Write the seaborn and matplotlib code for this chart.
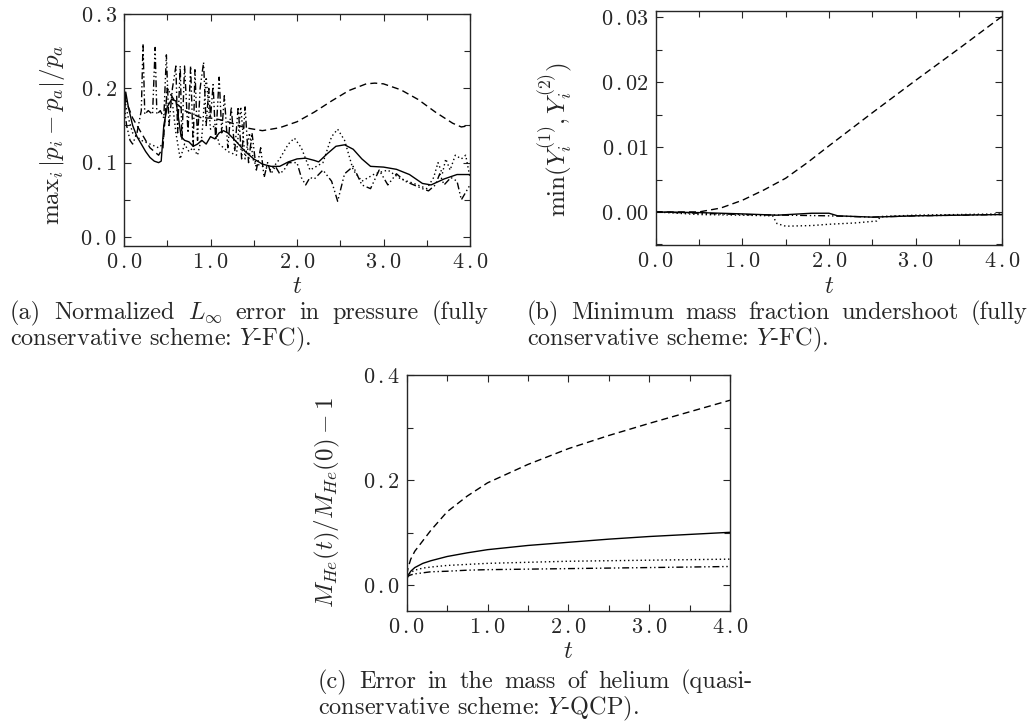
import numpy as np
import pandas as pd
import seaborn as sns
import matplotlib
matplotlib.use('Agg')
import matplotlib.pyplot as plt
from matplotlib.ticker import MultipleLocator, FuncFormatter

# ---- panel (a): normalized L_inf pressure error, Y-FC ----
a_solid_t = [0.0, 0.02, 0.05, 0.1, 0.15, 0.2, 0.25, 0.3, 0.35, 0.4, 0.43, 0.46, 0.5, 0.55, 0.6, 0.63, 0.66,
             0.7, 0.75, 0.8, 0.85, 0.9, 0.95, 1.0, 1.05, 1.1, 1.15, 1.2, 1.3, 1.4, 1.5, 1.6, 1.7, 1.8, 1.9,
             2.0, 2.1, 2.2, 2.25, 2.35, 2.45, 2.55, 2.65, 2.75, 2.85, 3.0, 3.15, 3.3, 3.45, 3.55, 3.7, 3.85, 4.0]
a_solid_y = [0.150, 0.195, 0.175, 0.150, 0.135, 0.125, 0.115, 0.107, 0.102, 0.100, 0.102, 0.150, 0.175, 0.185,
             0.183, 0.160, 0.135, 0.130, 0.128, 0.122, 0.125, 0.130, 0.125, 0.135, 0.132, 0.140, 0.143, 0.140,
             0.128, 0.115, 0.105, 0.098, 0.095, 0.095, 0.101, 0.105, 0.106, 0.103, 0.101, 0.112, 0.122, 0.124,
             0.118, 0.105, 0.095, 0.094, 0.091, 0.084, 0.072, 0.070, 0.078, 0.084, 0.084]

a_dash_t = [0.0, 0.05, 0.1, 0.2, 0.3, 0.4, 0.45, 0.5, 0.55, 0.6, 0.7, 0.8, 0.9, 1.0, 1.1, 1.2, 1.4, 1.6, 1.8,
            2.0, 2.2, 2.4, 2.6, 2.8, 2.9, 3.0, 3.2, 3.4, 3.6, 3.8, 3.9, 4.0]
a_dash_y = [0.19, 0.175, 0.16, 0.14, 0.12, 0.11, 0.12, 0.20, 0.19, 0.18, 0.17, 0.165, 0.16, 0.16, 0.158, 0.155,
            0.147, 0.143, 0.147, 0.155, 0.168, 0.183, 0.197, 0.206, 0.207, 0.206, 0.198, 0.185, 0.168, 0.153,
            0.148, 0.150]

a_dot_t = [0.0, 0.05, 0.1, 0.2, 0.3, 0.4, 0.45, 0.5, 0.55, 0.6, 0.65, 0.7, 0.75, 0.8, 0.85, 0.9, 0.95, 1.0,
           1.05, 1.1, 1.2, 1.3, 1.35, 1.4, 1.45, 1.5, 1.6, 1.7, 1.8, 1.9, 1.97, 2.05, 2.15, 2.3, 2.4, 2.47,
           2.55, 2.65, 2.75, 2.9, 3.05, 3.2, 3.35, 3.5, 3.58, 3.63, 3.68, 3.72, 3.77, 3.83, 3.9, 3.95, 4.0]
a_dot_y = [0.19, 0.16, 0.14, 0.13, 0.125, 0.12, 0.125, 0.20, 0.19, 0.14, 0.105, 0.125, 0.115, 0.12, 0.11,
           0.135, 0.215, 0.145, 0.15, 0.125, 0.115, 0.11, 0.175, 0.105, 0.14, 0.10, 0.095, 0.09, 0.105, 0.125,
           0.133, 0.12, 0.09, 0.10, 0.135, 0.145, 0.13, 0.09, 0.075, 0.085, 0.09, 0.078, 0.072, 0.065, 0.08,
           0.10, 0.085, 0.105, 0.09, 0.11, 0.105, 0.11, 0.08]

a_dd_t = [0.0, 0.03, 0.07, 0.1, 0.15, 0.2, 0.22, 0.24, 0.28, 0.33, 0.36, 0.38, 0.42, 0.46, 0.49, 0.52, 0.56,
          0.6, 0.62, 0.65, 0.67, 0.7, 0.74, 0.77, 0.8, 0.82, 0.85, 0.88, 0.92, 0.95, 0.98, 1.0, 1.03, 1.06,
          1.1, 1.13, 1.16, 1.2, 1.24, 1.28, 1.32, 1.36, 1.4, 1.44, 1.48, 1.53, 1.58, 1.62, 1.66, 1.7, 1.75,
          1.8, 1.85, 1.9, 2.0, 2.05, 2.1, 2.15, 2.2, 2.3, 2.4, 2.47, 2.55, 2.65, 2.75, 2.85, 2.95, 3.05, 3.15,
          3.25, 3.35, 3.45, 3.52, 3.6, 3.65, 3.7, 3.78, 3.85, 3.9, 3.95, 4.0]
a_dd_y = [0.18, 0.15, 0.13, 0.125, 0.14, 0.17, 0.26, 0.165, 0.17, 0.165, 0.255, 0.165, 0.17, 0.16, 0.245,
          0.15, 0.2, 0.23, 0.14, 0.23, 0.13, 0.23, 0.14, 0.23, 0.12, 0.225, 0.13, 0.2, 0.235, 0.15, 0.2, 0.16,
          0.205, 0.13, 0.215, 0.14, 0.19, 0.12, 0.175, 0.115, 0.175, 0.105, 0.175, 0.1, 0.14, 0.09, 0.12,
          0.08, 0.1, 0.085, 0.095, 0.085, 0.09, 0.1, 0.1, 0.08, 0.07, 0.08, 0.078, 0.09, 0.075, 0.048, 0.085,
          0.095, 0.07, 0.065, 0.09, 0.07, 0.085, 0.075, 0.07, 0.065, 0.062, 0.07, 0.085, 0.07, 0.08, 0.075,
          0.05, 0.06, 0.07]

# ---- panel (b): minimum mass fraction undershoot, Y-FC ----
b_solid_t = [0.0, 0.5, 1.0, 1.4, 1.8, 2.0, 2.1, 2.5, 3.0, 3.5, 4.0]
b_solid_y = [0.0, -0.0001, -0.0003, -0.0005, -0.0002, -0.0002, -0.0006, -0.0008, -0.0006, -0.0005, -0.0004]
b_dash_t = [0.0, 0.5, 0.75, 1.0, 1.25, 1.5, 1.75, 2.0, 2.5, 3.0, 3.5, 4.0]
b_dash_y = [0.0, 0.0, 0.0006, 0.0018, 0.0034, 0.0052, 0.0076, 0.0102, 0.0153, 0.0203, 0.0252, 0.0302]
b_dot_t = [0.0, 0.5, 1.0, 1.35, 1.4, 1.5, 1.8, 2.0, 2.3, 2.55, 2.6, 3.0, 3.5, 4.0]
b_dot_y = [0.0, -0.0004, -0.0005, -0.0006, -0.0018, -0.0022, -0.0021, -0.0019, -0.0017, -0.0014, -0.0007,
           -0.0005, -0.0004, -0.0003]
b_dd_t = [0.0, 0.5, 1.0, 1.5, 2.0, 2.5, 3.0, 3.5, 4.0]
b_dd_y = [0.0, -0.0002, -0.0004, -0.0005, -0.0006, -0.0008, -0.0006, -0.0005, -0.0004]

# ---- panel (c): error in the mass of helium, Y-QCP ----
c_t = [0.0, 0.02, 0.05, 0.1, 0.2, 0.3, 0.5, 0.75, 1.0, 1.5, 2.0, 2.5, 3.0, 3.5, 4.0]
c_dash = [0.02, 0.035, 0.05, 0.065, 0.085, 0.105, 0.14, 0.17, 0.195, 0.23, 0.26, 0.285, 0.308, 0.33, 0.352]
c_solid = [0.01, 0.02, 0.027, 0.034, 0.042, 0.047, 0.055, 0.062, 0.068, 0.076, 0.082, 0.088, 0.093, 0.097, 0.101]
c_dot = [0.015, 0.02, 0.025, 0.029, 0.033, 0.035, 0.038, 0.04, 0.042, 0.044, 0.046, 0.047, 0.048, 0.049, 0.05]
c_dd = [0.015, 0.018, 0.02, 0.022, 0.024, 0.026, 0.027, 0.029, 0.03, 0.031, 0.032, 0.033, 0.034, 0.035, 0.036]

DASH = (5, 3)
DOT = (1, 2)
DASHDOTDOT = (5, 2, 1, 2, 1, 2)

sns.set_style('ticks')
plt.rcParams['font.family'] = 'serif'
plt.rcParams['font.serif'] = ['cmr10']
plt.rcParams['mathtext.fontset'] = 'cm'
plt.rcParams['axes.formatter.use_mathtext'] = True
plt.rcParams['axes.unicode_minus'] = False

fig = plt.figure(figsize=(10.31, 7.26), dpi=100)
W = fig.bbox.width
H = fig.bbox.height


def draw(ax, t, y, dashes=None):
    sns.lineplot(x=t, y=y, ax=ax, color='black', lw=1.0)
    if dashes is not None:
        ax.lines[-1].set_dashes(dashes)


def spaced(ndig):
    # gnuplot-like "0 .3" tick labels
    def f(v, pos):
        s = '%.*f' % (ndig, v)
        i, d = s.split('.')
        return r'$%s\,.%s$' % (i.replace('-', ''), d)
    return FuncFormatter(f)


def style_axes(ax, ylim, ymaj, ymin, ndig, ylabel, lx, ly):
    ax.set_xlim(0, 4)
    ax.set_ylim(*ylim)
    ax.xaxis.set_major_locator(MultipleLocator(1.0))
    ax.xaxis.set_minor_locator(MultipleLocator(0.5))
    ax.yaxis.set_major_locator(MultipleLocator(ymaj))
    ax.yaxis.set_minor_locator(MultipleLocator(ymin))
    ax.xaxis.set_major_formatter(spaced(1))
    ax.yaxis.set_major_formatter(spaced(ndig))
    ax.tick_params(which='both', direction='in', top=True, right=True, labelsize=16, width=0.8)
    ax.tick_params(which='major', length=5, pad=5)
    ax.tick_params(which='minor', length=4)
    for s in ax.spines.values():
        s.set_linewidth(1.0)
    ax.set_xlabel(r'$t$', fontsize=18)
    ax.xaxis.set_label_coords(0.5, -0.13)
    ax.set_ylabel(ylabel, fontsize=18)
    ax.yaxis.set_label_coords(lx, ly)


def justify(words, x0, x1, y, size=17.5):
    texts = [fig.text(0, y, w, size=size, va='baseline', ha='left') for w in words]
    r = fig.canvas.get_renderer()
    widths = [t.get_window_extent(r).width for t in texts]
    gap = ((x1 - x0) - sum(widths)) / (len(words) - 1)
    x = x0
    for t, w in zip(texts, widths):
        t.set_x(x / W)
        x += w + gap


ax_a = fig.add_axes([124 / W, 1 - 245.5 / H, 346 / W, 231.5 / H])
draw(ax_a, a_solid_t, a_solid_y)
draw(ax_a, a_dash_t, a_dash_y, DASH)
draw(ax_a, a_dot_t, a_dot_y, DOT)
draw(ax_a, a_dd_t, a_dd_y, DASHDOTDOT)
style_axes(ax_a, (-0.0115, 0.3), 0.1, 0.05, 1, r'$\mathrm{max}_i\,|p_i - p_a|/p_a$', -0.165, 0.477)

ax_b = fig.add_axes([655.7 / W, 1 - 245 / H, 346.6 / W, 234 / H])
draw(ax_b, b_solid_t, b_solid_y)
draw(ax_b, b_dash_t, b_dash_y, DASH)
draw(ax_b, b_dot_t, b_dot_y, DOT)
draw(ax_b, b_dd_t, b_dd_y, DASHDOTDOT)
style_axes(ax_b, (-0.0051, 0.031), 0.01, 0.005, 2, r'$\mathrm{min}(Y_i^{(1)},Y_i^{(2)})$', -0.235, 0.449)

ax_c = fig.add_axes([406.7 / W, 1 - 610.7 / H, 323.3 / W, 235.7 / H])
draw(ax_c, c_t, c_solid)
draw(ax_c, c_t, c_dash, DASH)
draw(ax_c, c_t, c_dot, DOT)
draw(ax_c, c_t, c_dd, DASHDOTDOT)
style_axes(ax_c, (-0.048, 0.4), 0.2, 0.1, 1, r'$M_{He}(t)/M_{He}(0)-1$', -0.2, 0.46)

# captions
justify(['(a)', 'Normalized', r'$L_\infty$', 'error', 'in', 'pressure', '(fully'], 10, 489, 1 - 319 / H)
fig.text(10 / W, 1 - 345 / H, r'conservative scheme: $Y$-FC).', size=17.5, va='baseline')
justify(['(b)', 'Minimum', 'mass', 'fraction', 'undershoot', '(fully'], 527, 1027, 1 - 319 / H)
fig.text(527 / W, 1 - 345 / H, r'conservative scheme: $Y$-FC).', size=17.5, va='baseline')
justify(['(c)', 'Error', 'in', 'the', 'mass', 'of', 'helium', '(quasi-'], 318, 753, 1 - 688 / H)
fig.text(318 / W, 1 - 714 / H, r'conservative scheme: $Y$-QCP).', size=17.5, va='baseline')

fig.savefig('out.png', dpi=100)
